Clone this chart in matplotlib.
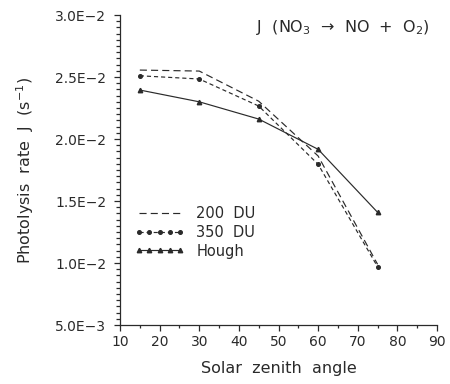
import matplotlib
matplotlib.use("Agg")
import matplotlib.pyplot as plt
from matplotlib.ticker import MultipleLocator, FuncFormatter

# solar zenith angle (deg)
sza = [15, 30, 45, 60, 75]

# NO3 -> NO + O2 photolysis rates (s^-1)
j_200du = [0.02556, 0.02548, 0.02305, 0.01863, 0.00990]
j_350du = [0.02510, 0.02484, 0.02266, 0.01796, 0.00970]
j_hough = [0.02395, 0.02300, 0.02161, 0.01917, 0.01409]

ink = "#2a2a2a"
plt.rcParams["font.family"] = "DejaVu Sans"
plt.rcParams["text.color"] = ink
plt.rcParams["axes.labelcolor"] = ink
plt.rcParams["xtick.color"] = ink
plt.rcParams["ytick.color"] = ink

fig = plt.figure(figsize=(4.5, 3.84), dpi=100)
ax = fig.add_axes([0.2667, 0.1536, 0.7044, 0.8073])

ax.plot(sza, j_200du, color=ink, lw=0.85, dashes=(6, 3.5), label="200  DU")
ax.plot(sza, j_350du, color=ink, lw=0.85, dashes=(3.5, 2.5),
        marker="o", ms=2.6, label="350  DU")
ax.plot(sza, j_hough, color=ink, lw=0.85, marker="^", ms=3.2, label="Hough")

ax.set_xlim(10, 90)
ax.set_ylim(0.005, 0.030)
ax.xaxis.set_major_locator(MultipleLocator(10))
ax.xaxis.set_minor_locator(MultipleLocator(5))
ax.yaxis.set_major_locator(MultipleLocator(0.005))
ax.yaxis.set_minor_locator(MultipleLocator(0.0005))


def sci(v, pos):
    # 2.5E-2 style labels
    m, e = f"{v:.1E}".split("E")
    return f"{m}E\u2212{abs(int(e))}"


ax.yaxis.set_major_formatter(FuncFormatter(sci))

for s in ["top", "right"]:
    ax.spines[s].set_visible(False)
for s in ["left", "bottom"]:
    ax.spines[s].set_linewidth(0.9)
    ax.spines[s].set_color(ink)

ax.tick_params(axis="both", which="both", direction="out", width=0.9, labelsize=10)
ax.tick_params(axis="x", which="major", length=4, pad=3)
ax.tick_params(axis="x", which="minor", length=2.5)
ax.tick_params(axis="y", which="major", length=4, pad=6)
ax.tick_params(axis="y", which="minor", length=3)

ax.set_xlabel("Solar  zenith  angle", fontsize=11.5)
ax.xaxis.set_label_coords(0.5, -0.115)
ax.set_ylabel("Photolysis  rate  J  (s$^{-1}$)", fontsize=11.5)
ax.yaxis.set_label_coords(-0.265, 0.5)

ax.text(0.978, 0.961, "J  (NO$_3$  \u2192  NO  +  O$_2$)", transform=ax.transAxes,
        ha="right", va="center", fontsize=11.5)

ax.legend(loc="upper left", bbox_to_anchor=(0.047, 0.384), frameon=False,
          numpoints=5, handlelength=3.4, handletextpad=0.8, labelspacing=0.26,
          borderpad=0, borderaxespad=0, fontsize=10.5)

fig.savefig("out.png", dpi=100)
